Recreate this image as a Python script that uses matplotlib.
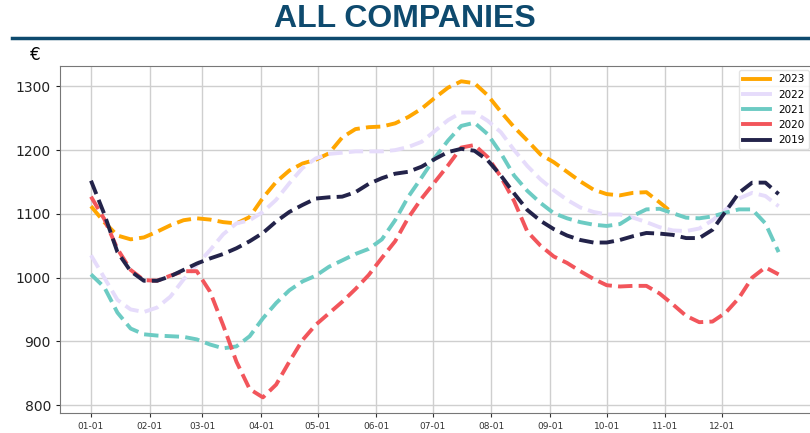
import pandas as pd
import matplotlib
matplotlib.use('Agg')
import matplotlib.pyplot as plt
from matplotlib.lines import Line2D

# weekly average per company, one value every 7 days from 1 Jan
weeks = pd.date_range('2019-01-01', periods=53, freq='7D')
month_starts = pd.date_range('2019-01-01', periods=12, freq='MS')
month_labels = list(month_starts.strftime('%m-%d'))

avg_2023 = [1112, 1087, 1066, 1060, 1063, 1072, 1082, 1090, 1093, 1091,
            1087, 1085, 1095, 1125, 1150, 1168, 1179, 1185, 1195, 1220,
            1233, 1236, 1237, 1242, 1252, 1265, 1282, 1298, 1308, 1305,
            1286, 1260, 1236, 1215, 1193, 1181, 1166, 1151, 1138, 1131,
            1129, 1133, 1134, 1118, 1101]
avg_2022 = [1035, 1000, 965, 950, 946, 953, 970, 997, 1020, 1043,
            1068, 1085, 1090, 1103, 1122, 1148, 1172, 1187, 1194, 1196,
            1198, 1198, 1198, 1200, 1205, 1213, 1230, 1247, 1259, 1259,
            1246, 1228, 1200, 1175, 1154, 1137, 1122, 1110, 1103, 1099,
            1099, 1094, 1087, 1079, 1074, 1073, 1077, 1090, 1107, 1124,
            1133, 1128, 1112]
avg_2021 = [1005, 985, 945, 920, 911, 909, 908, 907, 903, 895,
            889, 892, 908, 936, 960, 980, 994, 1003, 1017, 1027,
            1037, 1045, 1060, 1090, 1127, 1157, 1188, 1215, 1238, 1243,
            1225, 1195, 1160, 1136, 1117, 1101, 1093, 1087, 1083, 1081,
            1084, 1097, 1107, 1108, 1101, 1094, 1093, 1096, 1102, 1107,
            1107, 1085, 1040]
avg_2020 = [1127, 1092, 1045, 1012, 996, 995, 1003, 1010, 1010, 978,
            925, 868, 825, 812, 832, 868, 902, 926, 944, 962,
            982, 1004, 1031, 1057, 1094, 1124, 1150, 1176, 1204, 1208,
            1189, 1158, 1120, 1072, 1050, 1033, 1023, 1010, 998, 988,
            986, 987, 987, 975, 958, 940, 930, 931, 945, 968,
            1000, 1016, 1005]
avg_2019 = [1152, 1100, 1040, 1010, 995, 995, 1002, 1012, 1022, 1030,
            1037, 1046, 1057, 1070, 1088, 1103, 1114, 1124, 1126, 1127,
            1134, 1147, 1156, 1163, 1166, 1174, 1186, 1197, 1202, 1199,
            1184, 1160, 1132, 1106, 1089, 1076, 1066, 1059, 1055, 1055,
            1059, 1065, 1070, 1069, 1067, 1062, 1062, 1075, 1104, 1133,
            1149, 1149, 1131]

years = ['2023', '2022', '2021', '2020', '2019']
series = [avg_2023, avg_2022, avg_2021, avg_2020, avg_2019]
colors = ['#ffa600', '#e6dcfb', '#6ccbc3', '#f2555b', '#23234a']

days = (weeks - weeks[0]).days
month_days = (month_starts - weeks[0]).days

fig = plt.figure(figsize=(8.1, 4.33), dpi=100)
ax = fig.add_axes([60 / 810, 1 - 413 / 433, 753 / 810, 347 / 433])

for year, vals, col in zip(years, series, colors):
    ax.plot(days[:len(vals)], vals, color=col, lw=2.8, ls='--')

ax.set_xlim(-16.4, 382.2)
ax.set_ylim(787.5, 1332)
ax.set_xticks(month_days)
ax.set_xticklabels(month_labels)
ax.set_yticks(range(800, 1301, 100))
ax.grid(color='#cfcfcf', lw=1)
ax.set_axisbelow(True)
ax.tick_params(axis='x', labelsize=6.5, colors='#333333', length=3)
ax.tick_params(axis='y', labelsize=10, colors='#222222', length=3)
for sp in ax.spines.values():
    sp.set_color('#777777')

handles = [Line2D([], [], color=c, lw=2.8) for c in colors]
ax.legend(handles, years, loc='upper right', fontsize=7.5, handlelength=2.6,
          edgecolor='#dddddd', borderaxespad=0.4)

fig.text(0.5, 1 - 19 / 433, 'ALL COMPANIES', ha='center', va='center',
         fontsize=23, weight='bold', color='#0e4a6e',
         family=['Liberation Sans Narrow', 'Liberation Sans', 'DejaVu Sans'])
fig.add_artist(Line2D([12 / 810, 1], [1 - 38 / 433] * 2, color='#0e4a6e', lw=2.5))
fig.text(35 / 810, 1 - 55 / 433, '€', ha='center', va='center', fontsize=12)

fig.savefig('out.png', dpi=100)
